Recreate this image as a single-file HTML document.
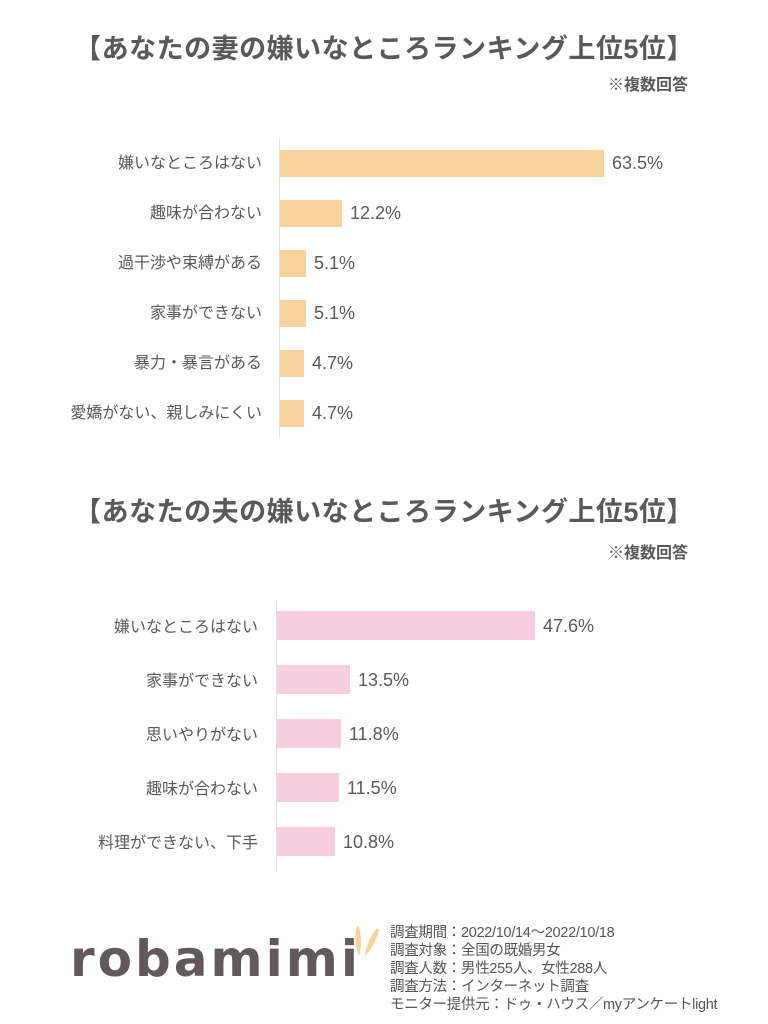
<!DOCTYPE html>
<html><head><meta charset="utf-8"><style>
body{margin:0;width:768px;height:1024px;background:#fff;position:relative;overflow:hidden;font-family:"Liberation Sans","Noto Sans CJK JP",sans-serif;color:#595959}
.a{position:absolute;white-space:nowrap}
.t{font-size:27px;font-weight:bold;left:0;width:768px;text-align:center;letter-spacing:0.5px}
.n{font-size:16px;font-weight:bold;right:80px}
.l{font-size:16px;text-align:right;width:240px;left:22px}
.v{font-size:18px}
.b1{background:#fad29b;height:27px}
.b2{background:#f8cfe0;height:29px}
.ax{background:#e3e3e3;width:1px}
.f{font-size:14.5px;left:390px;color:#555;letter-spacing:-0.3px}
</style></head><body>
<div class="a t" style="top:27px">【あなたの妻の嫌いなところランキング上位5位】</div>
<div class="a n" style="top:71px">※複数回答</div>
<div class="a ax" style="left:279px;top:138px;height:300px"></div>

<div class="a l" style="top:149px">嫌いなところはない</div><div class="a b1" style="left:280px;top:150px;width:324px"></div><div class="a v" style="left:612px;top:153px">63.5%</div>
<div class="a l" style="top:199px">趣味が合わない</div><div class="a b1" style="left:280px;top:200px;width:62px"></div><div class="a v" style="left:350px;top:203px">12.2%</div>
<div class="a l" style="top:249px">過干渉や束縛がある</div><div class="a b1" style="left:280px;top:250px;width:26px"></div><div class="a v" style="left:314px;top:253px">5.1%</div>
<div class="a l" style="top:299px">家事ができない</div><div class="a b1" style="left:280px;top:300px;width:26px"></div><div class="a v" style="left:314px;top:303px">5.1%</div>
<div class="a l" style="top:349px">暴力・暴言がある</div><div class="a b1" style="left:280px;top:350px;width:24px"></div><div class="a v" style="left:312px;top:353px">4.7%</div>
<div class="a l" style="top:399px">愛嬌がない、親しみにくい</div><div class="a b1" style="left:280px;top:400px;width:24px"></div><div class="a v" style="left:312px;top:403px">4.7%</div>

<div class="a t" style="top:490px">【あなたの夫の嫌いなところランキング上位5位】</div>
<div class="a n" style="top:539px">※複数回答</div>
<div class="a ax" style="left:276px;top:600px;height:270px"></div>

<div class="a l" style="top:613px;left:18px">嫌いなところはない</div><div class="a b2" style="left:277px;top:611px;width:258px"></div><div class="a v" style="left:543px;top:616px">47.6%</div>
<div class="a l" style="top:667px;left:18px">家事ができない</div><div class="a b2" style="left:277px;top:665px;width:73px"></div><div class="a v" style="left:358px;top:670px">13.5%</div>
<div class="a l" style="top:721px;left:18px">思いやりがない</div><div class="a b2" style="left:277px;top:719px;width:64px"></div><div class="a v" style="left:349px;top:724px">11.8%</div>
<div class="a l" style="top:775px;left:18px">趣味が合わない</div><div class="a b2" style="left:277px;top:773px;width:62px"></div><div class="a v" style="left:347px;top:778px">11.5%</div>
<div class="a l" style="top:829px;left:18px">料理ができない、下手</div><div class="a b2" style="left:277px;top:827px;width:58px"></div><div class="a v" style="left:343px;top:832px">10.8%</div>

<div class="a" style="left:70px;top:930px;font-size:50px;font-weight:bold;color:#625a5a;letter-spacing:3px;font-family:'DejaVu Sans','Liberation Sans',sans-serif">robamimi</div>
<svg class="a" style="left:347px;top:922px" width="40" height="40"><path d="M10 4 Q6 18 12 34 Q16 22 12 4Z" fill="#fad29b"/><path d="M30 6 Q20 18 18 34 Q28 24 32 8Z" fill="#fad29b"/></svg>
<div class="a f" style="top:921px">調査期間：2022/10/14～2022/10/18</div>
<div class="a f" style="top:939px">調査対象：全国の既婚男女</div>
<div class="a f" style="top:957px">調査人数：男性255人、女性288人</div>
<div class="a f" style="top:975px">調査方法：インターネット調査</div>
<div class="a f" style="top:993px">モニター提供元：ドゥ・ハウス／myアンケートlight</div>
</body></html>
